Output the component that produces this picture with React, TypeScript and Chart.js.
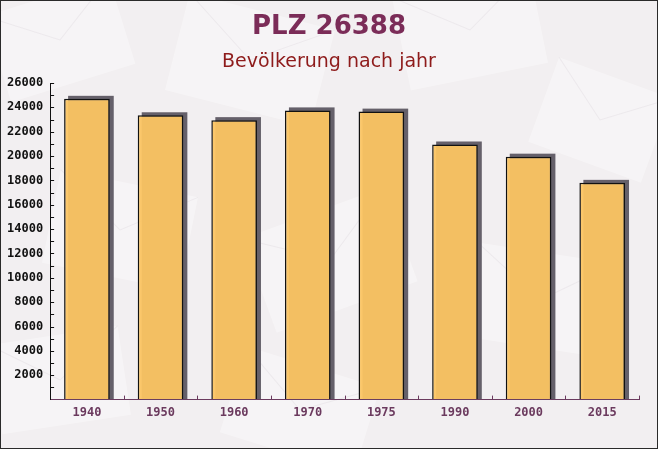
import React, { useEffect, useRef } from 'react';
import { Chart, registerables } from 'chart.js';

Chart.register(...registerables);

const years = ['1940', '1950', '1960', '1970', '1975', '1990', '2000', '2015'];
const population = [24700, 23350, 22950, 23750, 23650, 20950, 19950, 17800];
const yMin = 0;
const yMax = 26000;
const yMinorStep = 1000;
const yMajorStep = 2000;
const titleText = 'PLZ 26388';
const subtitleText = 'Bevölkerung nach jahr';

const W = 658;
const H = 449;

const decorPlugin = {
  id: 'decor',
  beforeDraw(chart: any) {
    const ctx = chart.ctx;
    ctx.save();
    ctx.fillStyle = '#f2eff1';
    ctx.fillRect(0, 0, chart.width, chart.height);
    const shapes = [
      [60, 40, 130, 90, -0.3],
      [250, 60, 150, 100, 0.25],
      [470, 30, 140, 95, -0.2],
      [600, 120, 120, 90, 0.35],
      [120, 230, 140, 95, 0.2],
      [330, 260, 150, 100, -0.35],
      [540, 300, 140, 95, 0.15],
      [60, 380, 130, 90, -0.15],
      [300, 410, 140, 90, 0.3],
    ];
    for (const [cx, cy, w, h, a] of shapes) {
      ctx.save();
      ctx.translate(cx, cy);
      ctx.rotate(a);
      ctx.fillStyle = 'rgba(255,255,255,0.35)';
      ctx.fillRect(-w / 2, -h / 2, w, h);
      ctx.strokeStyle = 'rgba(200,190,198,0.2)';
      ctx.beginPath();
      ctx.moveTo(-w / 2, -h / 2);
      ctx.lineTo(0, 0);
      ctx.lineTo(w / 2, -h / 2);
      ctx.stroke();
      ctx.restore();
    }
    ctx.restore();
  },
  afterDraw(chart: any) {
    const ctx = chart.ctx;
    ctx.save();
    ctx.textAlign = 'center';
    ctx.textBaseline = 'middle';
    ctx.fillStyle = '#7b2c58';
    ctx.font = 'bold 26px "DejaVu Sans"';
    ctx.fillText(titleText, chart.width / 2, 27);
    ctx.fillStyle = '#8e1b1b';
    ctx.font = '19px "DejaVu Sans"';
    ctx.fillText(subtitleText, chart.width / 2, 62);

    // axis ticks
    const ys = chart.scales.y;
    const xs = chart.scales.x;
    const area = chart.chartArea;
    ctx.strokeStyle = '#111';
    ctx.lineWidth = 1;
    for (let v = yMin + yMinorStep; v <= yMax; v += yMinorStep) {
      const py = Math.round(ys.getPixelForValue(v)) + 0.5;
      ctx.beginPath();
      ctx.moveTo(area.left, py);
      ctx.lineTo(area.left + 4, py);
      ctx.stroke();
    }
    ctx.strokeStyle = '#6b3a5e';
    const n = years.length;
    for (let i = 0; i < n; i++) {
      const a = xs.getPixelForTick(i);
      const b = i + 1 < n ? xs.getPixelForTick(i + 1) : a + (a - xs.getPixelForTick(i - 1));
      const px = Math.round((a + b) / 2) + 0.5;
      ctx.beginPath();
      ctx.moveTo(px, area.bottom);
      ctx.lineTo(px, area.bottom - 4);
      ctx.stroke();
    }

    ctx.strokeStyle = '#2a2a2a';
    ctx.strokeRect(0.5, 0.5, chart.width - 1, chart.height - 1);
    ctx.restore();
  },
};

const shadowPlugin = {
  id: 'barShadow',
  beforeDatasetsDraw(chart: any) {
    const ctx = chart.ctx;
    const meta = chart.getDatasetMeta(0);
    ctx.save();
    ctx.fillStyle = '#65606a';
    for (const el of meta.data) {
      const { x, y, base, width } = el.getProps(['x', 'y', 'base', 'width'], true);
      const left = x - width / 2 + 4;
      const top = y - 3;
      ctx.fillRect(left, top, width, base - top);
    }
    ctx.restore();
  },
};

export default function App() {
  const ref = useRef<HTMLCanvasElement | null>(null);
  useEffect(() => {
    if (!ref.current) return;
    const chart = new Chart(ref.current, {
      type: 'bar',
      data: {
        labels: years,
        datasets: [
          {
            data: population,
            backgroundColor: 'rgba(251,196,98,0.95)',
            borderColor: '#111',
            borderWidth: { top: 1.5, left: 1.5, right: 1.5, bottom: 0 },
            borderSkipped: 'bottom',
            barPercentage: 0.62,
            categoryPercentage: 1,
          },
        ],
      },
      options: {
        responsive: false,
        animation: false,
        events: [],
        layout: { padding: { left: 0, right: 19, top: 83, bottom: 23 } },
        plugins: {
          legend: { display: false },
          tooltip: { enabled: false },
          title: { display: false },
        },
        scales: {
          x: {
            grid: { display: true, drawOnChartArea: false, drawTicks: false, color: 'transparent' },
            border: { display: true, color: '#6b3a5e', width: 1 },
            ticks: {
              color: '#6b3a5e',
              font: { family: '"DejaVu Sans Mono"', size: 12, weight: 'bold' },
              padding: 6,
            },
          },
          y: {
            min: yMin,
            max: yMax,
            grid: { display: true, drawOnChartArea: false, drawTicks: false, color: 'transparent' },
            border: { display: true, color: '#111', width: 1 },
            ticks: {
              stepSize: yMinorStep,
              autoSkip: false,
              color: '#111',
              padding: 7,
              font: { family: '"DejaVu Sans Mono"', size: 12, weight: 'bold' },
              callback: (v: any) => (v !== 0 && v % yMajorStep === 0 ? String(v) : ''),
            },
          },
        },
      },
      plugins: [decorPlugin, shadowPlugin],
    });
    return () => chart.destroy();
  }, []);
  return (
    <div style={{ position: 'absolute', left: 0, top: 0, width: W, height: H }}>
      <canvas ref={ref} width={W} height={H} style={{ display: 'block' }} />
    </div>
  );
}
